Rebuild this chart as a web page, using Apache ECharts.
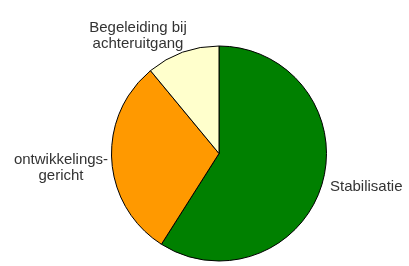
<!DOCTYPE html>
<html>
<head>
<meta charset="utf-8">
<script src="https://cdn.jsdelivr.net/npm/echarts@6/dist/echarts.min.js"></script>
<style>
  html, body { margin: 0; padding: 0; background: #fff; }
  #chart { width: 409px; height: 266px; }
</style>
</head>
<body>
<div id="chart"></div>
<script>
const names = ['Stabilisatie', 'ontwikkelings-\ngericht', 'Begeleiding bij\nachteruitgang']
const values = [59, 30, 11]
const colors = ['#008000', '#ff9900', '#ffffcc']
// label anchors [x, y, align]
const labelPos = [[330, 187, 'left'], [61, 168, 'center'], [138, 36, 'center']]

const myChart = echarts.init(document.getElementById('chart'))
const option = {
  animation: false,
  backgroundColor: '#fff',
  series: [
    {
      type: 'pie',
      center: [219, 153.5],
      radius: [0, 107.5],
      startAngle: 90,
      clockwise: true,
      data: names.map((n, i) => ({ name: n, value: values[i], itemStyle: { color: colors[i] } })),
      itemStyle: { borderColor: '#000', borderWidth: 1 },
      label: {
        show: true,
        position: 'outside',
        fontFamily: 'Liberation Sans',
        fontSize: 15,
        color: '#333',
        lineHeight: 16,
        overflow: 'none'
      },
      labelLine: { show: false, length: 4, length2: 0 },
      labelLayout: (params) => {
        const p = labelPos[params.dataIndex]
        return { x: p[0], y: p[1], align: p[2], verticalAlign: 'middle' }
      }
    }
  ]
}
myChart.setOption(option)
</script>
</body>
</html>
